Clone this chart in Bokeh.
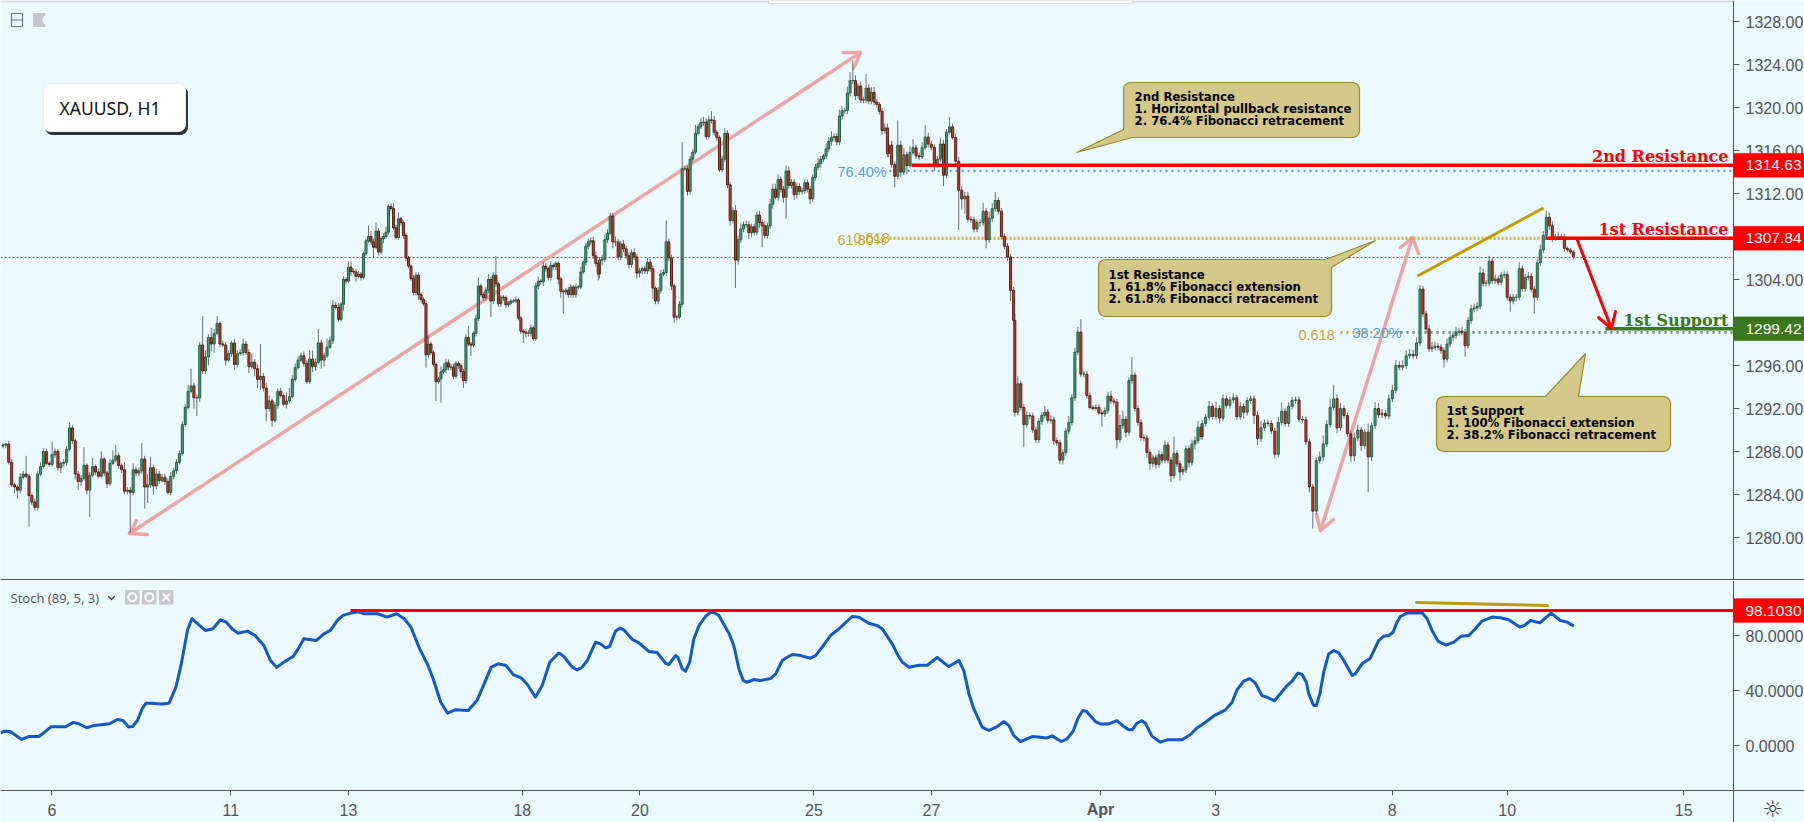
import math
import numpy as np
from bokeh.plotting import figure
from bokeh.layouts import column
from bokeh.models import (ColumnDataSource, FixedTicker, Label, PolyAnnotation, Range1d)
from bokeh.embed import file_html
from bokeh.resources import INLINE

# ---------- candle data: closes, upper and lower wick lengths (tenths of a dollar) ----------
closes_a = [1288.6,1288.7,1287.0,1284.9,1284.7,1284.4,1285.6,1285.9,1285.7,1283.9,
1283.3,1282.8,1285.9,1286.6,1288.0,1286.9,1286.8,1287.7,1288.0,1286.5,
1286.9,1287.0,1288.2,1290.2,1289.0,1285.9,1285.2,1285.5,1286.7,1284.4,
1285.8,1286.6,1286.1,1285.7,1287.3,1286.0,1285.0,1286.9,1287.2,1287.6,
1286.7,1286.3,1284.3,1284.4,1284.2,1286.3,1286.0,1286.2,1287.3,1284.7,
1284.9,1286.5,1284.8,1285.9,1285.3,1285.6,1285.2,1284.2,1285.7,1286.2,
1287.0,1287.8,1290.5,1292.1,1293.6,1294.1,1293.0,1293.0,1297.9,1295.5,
1296.8,1298.6,1298.0,1299.0,1299.9,1298.0,1297.9,1296.5,1297.1,1298.1,
1296.1,1297.1,1297.2,1298.0,1297.2,1295.9,1296.3,1295.7,1294.7,1295.0,
1293.9,1292.0,1292.7,1290.9,1292.3,1293.6,1293.2,1292.4,1292.7,1293.1,
1294.7,1295.8,1296.5,1296.9,1296.2,1294.5,1296.6,1295.9,1296.3,1298.1,
1296.5,1296.9,1297.7,1298.3,1301.6,1301.4,1300.3]
up_a = [2,1,3,3,2,2,4,3,17,2, 2,3,3,4,3,3,2,12,3,2, 2,3,3,5,3,2,3,3,17,2, 3,8,2,3,7,2,2,4,9,10,
3,2,7,3,3,6,3,3,15,3, 10,10,3,5,3,3,3,3,4,3, 3,3,3,3,6,16,3,3,3,27, 6,3,9,4,7,2,3,3,3,2,
4,3,3,5,3,3,8,3,4,30, 3,5,5,2,3,3,3,2,8,8, 4,4,4,3,4,3,8,8,4,13, 3,3,8,4,5,3,4]
dn_a = [2,3,2,2,6,8,3,2,2,29, 3,3,3,2,2,2,2,2,3,3, 5,3,3,2,3,5,8,4,2,4, 25,2,3,2,2,3,4,2,2,2,
3,3,3,3,38,3,3,3,3,20, 15,3,8,3,3,2,3,2,3,3, 3,2,2,2,2,2,10,17,4,3, 3,8,7,8,2,3,2,5,2,3,
5,3,2,3,2,6,2,7,8,10, 3,12,3,6,2,3,2,2,4,2, 2,2,2,2,3,2,2,5,4,2, 8,6,2,2,3,2,2]

closes_b = [1301.7,1304.0,1303.85,1305.15,1304.75,1304.7,1304.3,1304.5,1304.2,1306.4,
1307.6,1308.0,1307.5,1307.0,1308.5,1306.55,1307.8,1308.0,1308.4,1310.8,
1310.6,1308.8,1307.9,1309.65,1309.3,1308.1,1306.0,1305.25,1304.1,1302.8,
1304.4,1302.6,1302.15,1301.75,1297.0,1298.0,1297.2,1296.1,1294.5,1294.75,
1295.4,1295.6,1296.25,1295.85,1295.85,1295.0,1296.2,1296.0,1295.45,1294.6,
1298.6,1298.0,1297.9,1299.0,1300.35,1303.4,1302.6,1302.3,1303.0,1304.0,
1302.0,1304.4,1303.6,1301.75,1302.35,1302.3,1301.65,1301.8,1302.0,1302.0,
1302.1,1300.4,1299.2,1299.1,1299.0,1299.0,1299.5,1298.5,1303.4,1303.85,
1303.8,1305.25,1305.0,1304.2,1305.3,1305.2,1305.5,1304.05,1302.9,1302.85,
1303.0,1302.6,1303.3,1302.6,1303.3,1303.3,1304.7,1305.6,1307.1,1307.5,
1307.6,1306.2,1305.5,1304.5]
up_b = [2,3,2,5,5,3,3,3,2,2, 2,10,5,3,8,3,2,3,5,2, 3,5,3,6,2,2,2,2,2,3, 3,3,2,2,3,8,2,2,2,2,
5,6,4,3,3,3,2,2,2,2, 3,11,2,2,4,8,2,2,3,5, 3,3,18,2,2,2,2,2,2,2, 3,2,2,2,3,3,3,2,3,4,
2,4,3,2,4,2,2,2,2,2, 2,3,3,2,3,2,5,2,3,3, 3,4,4,3]
dn_b = [2,6,3,2,4,2,5,2,3,2, 2,2,3,10,2,3,2,4,2,2, 2,2,2,2,3,3,3,2,2,3, 3,5,3,2,12,3,2,2,18,2,
22,2,3,3,3,3,2,3,6,7, 3,2,10,2,3,2,2,3,3,3, 15,3,3,3,3,3,3,2,2,2, 2,2,3,10,4,3,3,2,2,3,
3,4,3,3,3,3,3,5,6,20, 3,3,3,3,3,2,2,2,3,3, 3,3,3,6]

closes_c = [1305.8,1305.9,1307.7,1308.3,1309.9,1307.5,1307.5,1306.1,1307.3,1306.85,
1306.2,1305.4,1306.5,1306.1,1304.6,1304.8,1305.0,1304.8,1305.6,1305.0,
1303.2,1302.0,1303.0,1304.5,1304.65,1307.5,1306.0,1303.4,1300.5,1300.5,
1301.7,1314.3,1314.3,1312.2,1315.2,1315.85,1317.6,1318.2,1318.6,1318.65,
1317.3,1318.85,1318.8,1317.7,1317.2,1314.2,1315.2,1317.6,1312.8,1309.5,
1310.4,1305.8,1307.7,1308.7,1309.1,1309.1,1308.35,1308.9,1308.4,1310.0,
1309.3,1309.0,1308.1,1309.0,1311.0,1312.4,1311.65,1313.3,1312.4,1311.65,
1314.1,1312.75,1313.05,1311.9,1312.65,1312.2,1312.25,1313.0,1312.4,1311.5,
1313.5,1314.45,1314.8,1315.2,1315.5,1316.15,1316.85,1317.2,1317.3,1316.8,
1319.2,1319.7,1319.7,1321.35,1322.5,1322.5,1321.1,1322.0,1320.7,1320.7,
1321.8,1320.6,1321.4,1320.5,1320.3,1319.65,1317.85,1318.1,1315.7]
up_c = [3,4,5,4,3,3,5,3,3,4, 3,3,3,4,3,3,2,3,4,3, 3,2,3,4,3,20,3,3,2,2, 3,25,3,3,3,3,8,3,4,5,
3,4,8,4,2,2,3,5,3,3, 3,5,4,5,3,4,3,3,3,3, 4,3,5,3,5,5,5,5,3,3, 5,4,3,3,3,3,3,3,3,3,
3,3,5,3,2,5,4,6,3,3, 6,4,3,6,8,19,5,3,4,3, 13,4,5,5,3,2,3,4,4]
dn_c = [4,5,3,3,2,6,4,3,3,3, 3,4,3,3,5,4,3,3,3,3, 10,3,3,3,2,3,3,4,5,3, 2,3,2,4,3,3,2,2,2,3,
3,2,3,3,3,2,2,3,3,5, 3,26,4,3,3,3,6,4,3,3, 5,20,3,3,3,4,2,3,3,5, 20,3,3,5,4,3,3,3,3,5,
3,3,3,4,3,3,3,4,3,3, 3,3,3,3,3,3,4,3,3,3, 3,3,3,3,3,3,4,3,3]

closes_d = [1316.5,1314.7,1313.6,1316.5,1314.0,1315.6,1314.6,1315.8,1316.25,1315.5,
1315.4,1316.25,1317.25,1316.6,1316.3,1314.7,1315.2,1316.6,1313.7,1317.7,
1318.2,1317.2,1315.0,1312.3,1311.5,1311.75,1309.6,1309.55,1308.7,1309.3,
1309.3,1310.35,1307.7,1309.7,1310.6,1311.35,1310.35,1308.0,1307.1,1306.1,
1303.0,1300.2]
up_d = [5,4,3,23,4,6,3,6,8,3, 3,5,11,4,3,3,3,6,4,3, 9,3,4,4,4,4,4,3,3,3, 3,8,3,6,5,8,3,3,3,3, 3,3]
dn_d = [3,3,10,3,5,3,8,2,2,3, 3,2,2,3,3,6,3,3,10,3, 2,2,3,37,10,14,3,3,3,3, 4,3,8,3,3,3,3,3,3,4, 10,3]

closes_e = [1291.65,1294.3,1292.1,1290.5,1291.35,1291.3,1290.0,1289.1,1290.8,1291.35,
1291.65,1290.9,1290.95,1289.0,1288.8,1287.2,1287.9,1289.9,1290.7,1293.0,
1297.25,1299.1,1295.2,1295.2,1293.2,1292.1,1292.0,1292.1,1291.6,1291.5,
1291.8,1293.15,1292.7,1292.6,1289.1,1290.4,1291.0,1289.8,1294.6,1295.1,
1292.0,1290.7,1289.3,1289.25,1287.9,1286.9,1287.4,1286.8,1287.7,1287.2,
1288.6,1287.2,1285.75,1287.8,1286.85,1286.1,1286.3,1288.25,1287.0,1288.7,
1289.0,1290.25,1289.4]
up_e = [6,7,3,3,4,3,3,3,3,3, 6,3,4,3,3,3,3,3,6,3, 4,5,12,3,3,3,2,3,3,3, 3,4,5,3,3,10,8,3,3,17,
3,3,3,3,3,3,3,3,4,3, 4,3,3,16,3,3,3,3,3,4, 4,6,3]
dn_e = [4,3,3,21,3,3,3,3,3,3, 3,3,3,4,3,4,4,3,3,3, 3,3,3,3,3,2,2,2,2,12, 3,3,3,3,8,3,3,5,3,3,
3,3,3,3,5,6,4,4,3,3, 3,3,6,3,3,8,3,3,5,3, 5,3,3]

closes_f = [1290.6,1291.2,1292.2,1291.25,1292.0,1291.1,1292.9,1292.3,1292.8,1293.0,
1291.25,1292.2,1291.65,1292.75,1292.9,1291.35,1289.2,1290.2,1290.65,1290.6,
1289.9,1287.75,1290.7,1291.75,1290.6,1292.2,1292.75,1292.8,1291.0,1290.95,
1288.9,1284.7,1282.45,1287.15,1287.5,1288.7,1290.5,1292.1,1292.9,1290.2,
1292.0,1291.35,1289.65,1287.6,1289.25,1290.0,1288.55,1289.8,1287.5,1290.4,
1292.0,1291.4,1291.55,1291.3,1292.9,1293.7,1296.0,1295.85,1296.0,1296.9,
1297.05,1296.9,1298.1,1303.1]
up_f = [3,3,5,3,6,3,4,3,3,4, 3,4,3,3,3,3,4,6,3,3, 3,3,5,8,3,4,3,3,3,3, 3,3,3,3,5,8,4,8,13,4,
5,3,3,3,5,5,3,3,8,3, 6,5,4,3,4,5,5,4,5,5, 5,4,5,4]
dn_f = [3,3,3,3,3,5,3,3,3,3, 3,3,6,3,3,8,6,3,3,3, 3,4,3,3,3,3,3,3,3,3, 3,5,16,3,3,4,3,3,3,5,
3,3,3,6,5,3,5,3,33,4, 3,3,3,3,3,3,3,3,3,3, 3,3,3,3]

closes_g = [1300.8,1299.4,1297.55,1297.7,1297.8,1297.7,1297.4,1296.6,1298.0,1298.6,
1298.8,1299.1,1299.2,1299.1,1297.85,1300.2,1301.25,1301.35,1301.5,1304.6,
1303.65,1303.65,1305.7,1303.9,1304.05,1303.75,1304.4,1304.45,1302.35,1302.0,
1302.35,1302.35,1305.0,1303.15,1304.2,1304.3,1303.1,1302.35,1305.55,1306.75,
1308.1,1309.8,1309.0,1307.8,1307.95,1307.95,1307.95,1306.9,1306.75,1306.55,
1306.1]
up_g = [3,3,4,5,4,3,3,3,5,3, 4,5,3,4,3,3,4,4,4,6, 4,3,5,3,4,3,3,3,3,3, 3,3,6,3,3,4,3,3,4,5, 4,6,4,4,3,5,3,3,2,2, 2]
dn_g = [3,3,3,3,3,3,3,8,3,3, 3,3,3,3,10,3,3,3,3,3, 3,3,3,3,3,3,3,3,3,10, 3,4,3,3,3,3,3,15,3,3, 3,3,4,3,2,2,2,3,2,2, 2]

seg_start_hours = [1, 139, 244.5, 362.5, 414, 490.5, 580.6]
seg_end_hours = [138, 244, 362, 413.5, 490, 579.4, 642]
first_open = 1288.5

# ---------- stochastic %K: hour of the reading and value ----------
stoch_hours = [0,1.6,3.9,6.3,8.6,11.7,15.6,18,20.6,26.6,29.7,32,35.2,38.3,44.5,47.7,50,52.3,53.9,55.9,57.8,59.4,61.7,65.6,68.8,71.6,73.8,76.3,78.1,80.5,83.6,86.7,89.8,92.2,94.5,96.9,100.8,103.9,107.5,110.2,112.8,115.6,119.5,121.9,123.8,128.9,132,134.7,137.5,139.8,143,146.1,148.4,153.9,157.8,161.7,164.8,167.5,171.1,174.2,176.6,179.7,182.5,185.6,190.9,194.5,197.7,200.3,203.1,206.3,209.4,212.5,214.8,218.4,221.1,224.2,227.8,
228.6,230.2,233.4,235.4,237.4,239.5,242.9,244.9,247,248.6,251,252.8,254.4,257.9,260.6,264.7,268,271.5,272.8,275.5,276.5,278.3,279.6,281.3,283,285.1,287.8,290.5,293.2,297.3,299.3,301.4,303.2,304.8,307.5,310.2,314.3,316.4,319.1,321.1,323.2,326.6,330.6,332.7,335.4,338.8,342.2,347.6,350.4,354.4,357.9,359.9,364,366,368.1,370.8,374.9,378.3,382.3,387.1,391.2,393.2,395.3,397.3,400.7,403.4,406.8,409.6,411.6,413.6,416.4,421.1,427.2,429.3,432.7,
433.3,435.3,437.8,439.7,441.7,443.2,446.9,448.9,452.3,455.7,458.5,460.5,461.9,463.9,465.9,467.3,470,473.4,476.1,482.3,485.7,488.4,491.8,495.2,500,502.7,504.7,507.4,509.9,512.2,514.9,517,520,524.9,527.2,529.5,531.3,533,534,536,537.1,538.5,540.1,542.1,544.2,546.2,548.3,551.7,553,555.7,559.1,562.5,564.6,566.6,568.4,570,571.4,
574.1,580.3,582.3,584.3,586.7,590,593.2,596.2,599.3,602,604.7,608.8,612.2,615.6,620.1,622,624.5,628.3,631,632.9,636.7,639.4,642.2]
stoch_values = [9.2,10.4,10.2,7.3,4.4,6.6,6.6,9.7,13.6,13.6,16.8,15.8,12.9,14.6,15.8,18.9,18.2,13.4,13.8,18.2,26.7,30.8,30.8,30.1,30.8,42.5,59.4,83.7,92.2,88.5,83.7,84.9,91.4,89.7,84.9,81.7,83.2,80,72.8,61.8,56.8,60.6,64.8,71.5,77.6,76.4,81.2,83.7,91,94.6,96.3,97.2,95.8,95.8,93.4,95.8,92.2,86.1,70.3,59.4,48.5,31.5,23.5,26,25.5,32.8,46.1,57,59.4,58.2,51.4,49.2,44.9,35.2,43.7,60.6,67.2,
66.6,64.2,56.9,55,56.9,61.8,75.1,73.9,71,72,83.1,85.3,84.1,77.1,74.6,68.3,67.6,59.8,58.9,65.4,64.2,55.7,54,60.6,77.5,87.2,94,97.7,94.5,81.7,72.7,55.7,47.2,46,48,47.2,48.7,52.1,61.8,64.2,66.2,65.4,63.5,65.4,71.5,80,84.8,93.8,93.3,88.9,87.2,84.8,73.9,66.6,60.6,56.9,58.4,58.4,64,57.4,61.8,54.5,37.5,26.6,13.3,10.9,13.8,17.4,14.5,7.2,2.9,6.5,5.5,7,3.1,
3.1,4.8,10.4,19.4,25.4,24.9,17.4,15.7,15.7,18.1,13.8,11.4,11.4,16.2,18.1,16.2,6.8,2.4,4.1,4.1,8,12.8,16.9,21.5,25.9,31.5,40.5,46.8,48.7,45.3,36.3,35.1,32.5,43.1,46.8,52.6,51.6,46,37.5,29.1,29.1,37.5,53.3,66.6,69.1,67.4,61.8,50.9,52.1,59.4,63.5,76.3,79.5,80,82.4,89.7,93.8,
96.3,96.3,92.2,83.7,75.9,73,75.2,79.5,80,84.9,90.5,93.4,92.9,91.4,86.1,87.3,90.9,89.2,93.4,96.3,90.9,89.7,86.8]

# ---------- axis ticks ----------
price_ticks = [1280,1284,1288,1292,1296,1300,1304,1308,1312,1316,1320,1324,1328]
stoch_ticks = [0,40,80]
time_ticks = [21,94,142,213,261,332,380,449,496,568,615,687]
time_labels = ["6","11","13","18","20","25","27","","3","8","10","15"]
april_hour = 449

# ---------- levels ----------
res2_price = 1314.63
res1_price = 1307.84
sup1_price = 1299.42
stoch_level = 98.103
last_price = 1306.05
fib764 = 1314.1
fib618 = 1307.85
fib382 = 1299.07

# ---------- assemble candles ----------
segs = [(closes_a,up_a,dn_a),(closes_b,up_b,dn_b),(closes_c,up_c,dn_c),(closes_d,up_d,dn_d),
        (closes_e,up_e,dn_e),(closes_f,up_f,dn_f),(closes_g,up_g,dn_g)]
t, c, u, d = [], [], [], []
for (cl, uw, dw), a, b in zip(segs, seg_start_hours, seg_end_hours):
    assert len(cl) == len(uw) == len(dw), (len(cl), len(uw), len(dw))
    t += list(np.linspace(a, b, len(cl)))
    c += cl; u += uw; d += dw
t, c, u, d = map(np.array, (t, c, u, d))
o = np.concatenate([[first_open], c[:-1]])
hi = np.maximum(o, c) + u / 10
lo = np.minimum(o, c) - d / 10
up = c >= o
src_up = ColumnDataSource(dict(x=t[up], top=c[up], bottom=o[up]))
src_dn = ColumnDataSource(dict(x=t[~up], top=o[~up], bottom=c[~up]))

BG = "#EAFAFF"
AX = "#555555"
AFONT = "Liberation Sans"
PX = 2.45
PANE = 1733 / PX      # hour at the price axis
WIDE = 1804 / PX      # hour at the right edge of the figure

def hx(x): return x / PX
def py(y): return 1320 - (y - 107) / 10.75
def sy(y): return (745 - y) / 1.375

def base_fig(h, yr, ticks, fmt):
    f = figure(width=1804, height=h, frame_width=1804, frame_height=h, output_backend="svg",
               toolbar_location=None, x_range=Range1d(0, WIDE), y_range=Range1d(*yr),
               x_axis_location="below", y_axis_location="right", background_fill_color=BG,
               border_fill_color=BG, min_border=0)
    f.outline_line_color = None
    f.grid.visible = False
    ya = f.yaxis[0]
    ya.fixed_location = PANE
    ya.ticker = FixedTicker(ticks=ticks)
    ya.major_label_overrides = {v: fmt % v for v in ticks}
    ya.axis_line_color = AX
    ya.major_tick_line_color = AX
    ya.major_tick_out = 6
    ya.major_tick_in = 0
    ya.minor_tick_line_color = None
    ya.major_label_text_color = AX
    ya.major_label_text_font = AFONT
    ya.major_label_text_font_size = "16px"
    ya.major_label_standoff = 6
    return f

main = base_fig(580, (py(580), py(0)), price_ticks, "%.2f")
main.xaxis.visible = False
st = base_fig(242, (sy(822), sy(580)), stoch_ticks, "%.4f")
xa = st.xaxis[0]
xa.fixed_location = sy(790)
xa.ticker = FixedTicker(ticks=time_ticks)
xa.major_label_overrides = dict(zip(time_ticks, time_labels))
xa.axis_line_color = AX
xa.major_tick_line_color = AX
xa.major_tick_out = 5
xa.major_tick_in = 0
xa.minor_tick_line_color = None
xa.major_label_text_color = AX
xa.major_label_text_font = AFONT
xa.major_label_text_font_size = "16px"
xa.major_label_standoff = 8

def txt(f, x, y, s, size, color, font=AFONT, align="left", style="normal"):
    f.add_layout(Label(x=x, y=y, text=s, text_font=font, text_font_size=f"{size}px", text_color=color,
                       text_align=align, text_baseline="middle", text_font_style=style))

def tag(f, yf, y0, fill, label):
    xs = [hx(1733), hx(1804), hx(1804), hx(1733)]
    ys = [yf(y0 - 12), yf(y0 - 12), yf(y0 + 12), yf(y0 + 12)]
    f.add_layout(PolyAnnotation(xs=xs, ys=ys, fill_color=fill, fill_alpha=1, line_color=fill))
    txt(f, hx(1745), yf(y0), label, 15.5, "#FFFFFF")

def arc(cx, cy, r, a0, a1, n=6):
    return [(cx + r * math.cos(math.radians(a0 + (a1 - a0) * i / n)),
             cy + r * math.sin(math.radians(a0 + (a1 - a0) * i / n))) for i in range(n + 1)]

def rounded(x0, y0, x1, y1, r):
    return (arc(x0 + r, y0 + r, r, 180, 270) + arc(x1 - r, y0 + r, r, 270, 360) +
            arc(x1 - r, y1 - r, r, 0, 90) + arc(x0 + r, y1 - r, r, 90, 180))

def pxpatch(f, pts, fill, line=None, lw=1, yf=py):
    f.patch([hx(p[0]) for p in pts], [yf(p[1]) for p in pts], fill_color=fill,
            line_color=line if line else fill, line_width=lw)

def pxline(f, xs, ys, color, lw, yf=py, dash="solid"):
    f.line([hx(v) for v in xs], [yf(v) for v in ys], line_color=color, line_width=lw, line_dash=dash,
           line_cap="round", line_join="round")

# ---------- main pane: under the candles ----------
main.line([0, PANE], [last_price, last_price], line_color="#B5473F", line_width=1, line_dash=[2, 2])
SALMON = "#F0A3A3"
pxline(main, [129, 860], [533, 52], SALMON, 3.5)
pxline(main, [147, 129, 136], [534, 533, 520], SALMON, 3.5)
pxline(main, [843, 860, 853], [52, 52, 68], SALMON, 3.5)
pxline(main, [1320, 1412], [530, 237], SALMON, 3.5)
pxline(main, [1316, 1320, 1333], [514, 530, 519], SALMON, 3.5)
pxline(main, [1400, 1412, 1418], [247, 237, 253], SALMON, 3.5)

GOLD = "#CDA52B"
BLUE = "#5A9BD8"
main.line([hx(889), PANE], [fib618 + 0.05, fib618 + 0.05], line_color=GOLD, line_width=2, line_dash=[2, 2], line_alpha=0.8)
main.line([hx(889), PANE], [fib618 - 0.08, fib618 - 0.08], line_color=GOLD, line_width=2, line_dash=[2, 2], line_alpha=0.8)
main.line([hx(889), PANE], [fib764, fib764], line_color=BLUE, line_width=2.3, line_dash=[2, 4])
main.line([hx(1337), PANE], [fib382, fib382], line_color=GOLD, line_width=3, line_dash=[2, 4], line_dash_offset=3)
main.line([hx(1400), PANE], [fib382 + 0.02, fib382 + 0.02], line_color=BLUE, line_width=2.6, line_dash=[2, 4])

# ---------- candles ----------
main.segment(t, hi, t, lo, line_color="#6E6E6E", line_width=1)
main.vbar(x="x", top="top", bottom="bottom", width=0.82, source=src_up,
          fill_color="#4F9C7A", line_color="#1F5F3E", line_width=1)
main.vbar(x="x", top="top", bottom="bottom", width=0.82, source=src_dn,
          fill_color="#D8392B", line_color="#5E1C12", line_width=1)

# ---------- main pane: over the candles ----------
RED = "#FF0000"
GREEN = "#3B771C"
main.line([hx(911), PANE], [res2_price, res2_price], line_color=RED, line_width=3.5)
main.line([hx(1545), PANE], [res1_price, res1_price], line_color=RED, line_width=3.5)
main.line([hx(1605), PANE], [sup1_price, sup1_price], line_color=GREEN, line_width=3.5)
pxline(main, [1418, 1542], [275, 208], "#C79A00", 3)
pxline(main, [1577, 1611], [240, 328], RED, 3)
pxline(main, [1598, 1611, 1615], [317, 328, 311], RED, 3)

SERIF = "DejaVu Serif"
txt(main, hx(1728), py(156), "2nd Resistance", 16, RED, SERIF, "right", "bold")
txt(main, hx(1728), py(229), "1st Resistance", 16, RED, SERIF, "right", "bold")
txt(main, hx(1728), py(320), "1st Support", 16, GREEN, SERIF, "right", "bold")

txt(main, hx(837), py(171), "76.40%", 14.5, BLUE)
txt(main, hx(837), py(239), "61.80%", 14.5, GOLD)
txt(main, hx(853), py(237), "0.618", 14.5, GOLD)
txt(main, hx(1298), py(334), "0.618", 14.5, GOLD)
txt(main, hx(1352), py(332), "38.20%", 14.5, BLUE)

for y, label, fill in [(res2_price, "1314.63", RED), (res1_price, "1307.84", RED), (sup1_price, "1299.42", GREEN)]:
    tag(main, py, 107 + (1320 - y) * 10.75, fill, label)

# callouts
CF, CL = "#D4C888", "#9C8A2C"
def co_a():
    x0, y0, x1, y1, r = 1123, 82, 1359, 137, 7
    return (arc(x0 + r, y0 + r, r, 180, 270) + arc(x1 - r, y0 + r, r, 270, 360) + arc(x1 - r, y1 - r, r, 0, 90) +
            [(1132, y1), (1076, 152), (x0, 129)])
def co_b():
    x0, y0, x1, y1, r = 1098, 259, 1331, 316, 7
    return (arc(x0 + r, y0 + r, r, 180, 270) + [(1325, y0), (1375, 240), (x1, 267)] +
            arc(x1 - r, y1 - r, r, 0, 90) + arc(x0 + r, y1 - r, r, 90, 180))
def co_c():
    x0, y0, x1, y1, r = 1436, 396, 1670, 451, 7
    return (arc(x0 + r, y0 + r, r, 180, 270) + [(1545, y0), (1585, 353), (1578, y0)] +
            arc(x1 - r, y0 + r, r, 270, 360) + arc(x1 - r, y1 - r, r, 0, 90) + arc(x0 + r, y1 - r, r, 90, 180))
for pts in (co_a(), co_b(), co_c()):
    pxpatch(main, pts, CF, CL, 1.2)
notes = [(1134, [96, 108, 120.5], ["2nd Resistance", "1. Horizontal pullback resistance", "2. 76.4% Fibonacci retracement"]),
         (1108, [274, 286, 298], ["1st Resistance", "1. 61.8% Fibonacci extension", "2. 61.8% Fibonacci retracement"]),
         (1446, [410.5, 422.5, 434.5], ["1st Support", "1. 100% Fibonacci extension", "2. 38.2% Fibonacci retracement"])]
for x, ys, lines in notes:
    for y, s in zip(ys, lines):
        txt(main, hx(x), py(y), s, 11.7, "#000000", "DejaVu Sans", style="bold")

# symbol box
pxpatch(main, rounded(45, 86, 187, 134, 7), "#2E3436")
pxpatch(main, rounded(43, 83, 185, 131, 7), "#FFFFFF", "#F0F0F0")
txt(main, hx(59), py(107), "XAUUSD, H1", 17.5, "#111111", "Noto Sans")

# pane controls, top strip and pane separator
pxline(main, [0, 1733], [1, 1], "#D5D9DD", 2)
pxpatch(main, [(768, 0), (1132, 0), (1132, 3), (768, 3)], "#FFFFFF", "#D5D9DD")
pxpatch(main, [(11, 13), (22, 13), (22, 26), (11, 26)], BG, "#6E7B8C", 1.2)
pxline(main, [11, 22], [19.5, 19.5], "#6E7B8C", 1.2)
pxpatch(main, [(33, 13), (45, 13), (41, 19.5), (45, 26), (33, 26)], "#C4C7D0")
main.line([0, WIDE], [py(579), py(579)], line_color=AX, line_width=1)

# ---------- stochastic pane ----------
st.line(stoch_hours, stoch_values, line_color="#1558C8", line_width=3, line_join="round")
st.line([hx(350), PANE], [stoch_level, stoch_level], line_color=RED, line_width=3)
pxline(st, [1416, 1547], [602, 605], "#C09A10", 3, yf=sy)
tag(st, sy, 610, RED, "98.1030")
txt(st, hx(10), sy(597), "Stoch (89, 5, 3)", 13, "#5A5A5A", "Noto Sans")
pxline(st, [108, 111, 114], [596, 599, 596], "#444444", 1.3, yf=sy)
for x0 in (125, 142, 159):
    pxpatch(st, [(x0, 590), (x0 + 13.5, 590), (x0 + 13.5, 603.5), (x0, 603.5)], "#C5C8D2", yf=sy)
st.scatter([hx(131.8), hx(148.8)], [sy(596.8), sy(596.8)], marker="circle", size=8, fill_color=None,
           line_color="#FFFFFF", line_width=2)
st.scatter([hx(165.8)], [sy(596.8)], marker="x", size=10, line_color="#FFFFFF", line_width=2)

# time axis details
txt(st, april_hour, sy(809), "Apr", 16, AX, AFONT, "center", "bold")
txt(st, hx(1772), sy(808), "\u263c", 23, "#444444", "DejaVu Sans", "center")

layout = column(main, st, spacing=0)
open("out.html", "w").write(file_html(layout, INLINE))
